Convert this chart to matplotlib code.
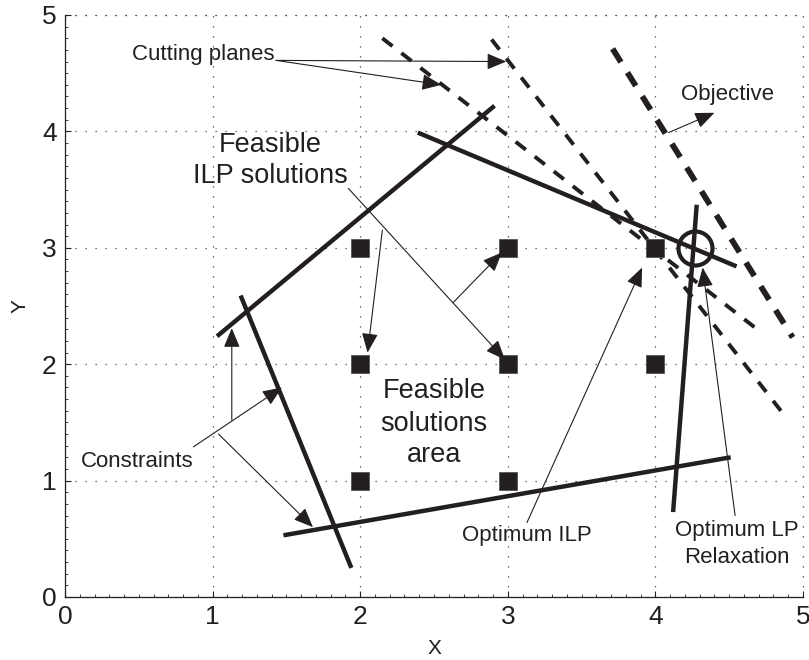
import numpy as np
import matplotlib
matplotlib.use("Agg")
import matplotlib.pyplot as plt
from matplotlib.ticker import MultipleLocator

plt.rcParams["font.family"] = ["Liberation Sans", "DejaVu Sans"]

ink = "#231f20"

# integer points (feasible ILP solutions)
pts_x = [2, 3, 4, 2, 3, 4, 2, 3]
pts_y = [3, 3, 3, 2, 2, 2, 1, 1]

# optimum of the LP relaxation
lp_opt = (4.27, 3.0)

# constraints: (x0, y0, x1, y1)
constraints = [
    (1.03, 2.24, 2.91, 4.22),
    (2.39, 3.99, 4.55, 2.84),
    (1.19, 2.59, 1.94, 0.25),
    (1.48, 0.53, 4.51, 1.20),
    (4.28, 3.37, 4.12, 0.73),
]

# cutting planes and objective
cuts = [
    (2.89, 4.79, 4.85, 1.60),
    (2.15, 4.80, 4.71, 2.28),
]
objective = (3.71, 4.71, 4.93, 2.23)

# annotation labels: (text, x, y, size)
labels = [
    ("Cutting planes", 0.94, 4.61, 16),
    ("Objective", 4.49, 4.27, 16),
    ("Feasible", 1.39, 3.82, 19.5),
    ("ILP solutions", 1.39, 3.56, 19.5),
    ("Feasible", 2.50, 1.71, 19.5),
    ("solutions", 2.50, 1.43, 19.5),
    ("area", 2.50, 1.16, 19.5),
    ("Constraints", 0.49, 1.12, 16),
    ("Optimum ILP", 3.13, 0.48, 16),
    ("Optimum LP", 4.55, 0.52, 16),
    ("Relaxation", 4.55, 0.29, 16),
]

# arrows: (start x, start y, tip x, tip y)
arrows = [
    (1.43, 4.61, 2.99, 4.60),
    (1.43, 4.61, 2.55, 4.40),
    (4.09, 3.99, 4.40, 4.16),
    (1.92, 3.51, 2.98, 2.04),
    (2.63, 2.53, 2.96, 2.96),
    (2.15, 3.15, 2.05, 2.10),
    (3.13, 0.64, 3.91, 2.83),
    (4.54, 0.70, 4.32, 2.83),
    (0.87, 1.29, 1.47, 1.80),
    (1.13, 1.52, 1.13, 2.31),
    (1.04, 1.40, 1.68, 0.60),
]

fig = plt.figure(figsize=(8.09, 6.6), dpi=100)
ax = fig.add_axes([65/809, 1-597/660, (803-65)/809, (597-15)/660])

for x0, y0, x1, y1 in constraints:
    ax.plot([x0, x1], [y0, y1], color=ink, lw=3.2, solid_capstyle="butt")

for x0, y0, x1, y1 in cuts:
    ax.plot([x0, x1], [y0, y1], color=ink, lw=2.8,
            dashes=[3.3, 2.9], dash_capstyle="butt")
ax.plot([objective[0], objective[2]], [objective[1], objective[3]],
        color=ink, lw=4.2, dashes=[2.7, 2.1], dash_capstyle="butt")

ax.plot(pts_x, pts_y, "s", color=ink, ms=13, mec="#555555", mew=0.6,
        ls="none")
ax.plot(*lp_opt, "o", mfc="none", mec=ink, ms=24.5, mew=3.0)

for x0, y0, x1, y1 in arrows:
    ax.annotate("", xy=(x1, y1), xytext=(x0, y0),
                arrowprops=dict(arrowstyle="-|>,head_length=0.6,head_width=0.25",
                                color=ink, lw=0.8, shrinkA=0, shrinkB=0,
                                mutation_scale=20))

for txt, x, y, s in labels:
    ax.text(x, y, txt, ha="center", va="baseline", fontsize=s, color=ink)

ax.set_xlim(0, 5)
ax.set_ylim(0, 5)
ax.xaxis.set_major_locator(MultipleLocator(1))
ax.yaxis.set_major_locator(MultipleLocator(1))
ax.xaxis.set_minor_locator(MultipleLocator(0.1))
ax.yaxis.set_minor_locator(MultipleLocator(0.1))
ax.tick_params(which="major", direction="in", length=4, width=0.8,
               labelsize=19, pad=6, colors=ink)
ax.tick_params(which="minor", direction="in", length=2, width=0.6, colors=ink)
for s in ["top", "right"]:
    ax.spines[s].set_visible(False)
for s in ["left", "bottom"]:
    ax.spines[s].set_linewidth(0.9)
    ax.spines[s].set_color(ink)

ax.grid(True, which="major", color="#444444", lw=0.9, ls=(0, (1, 7)))
ax.set_axisbelow(True)
ax.axvline(5, color="#444444", lw=0.9, ls=(0, (1, 7)), clip_on=False)
ax.axhline(5, color="#444444", lw=0.9, ls=(0, (1, 7)), clip_on=False)

ax.set_xlabel("X", fontsize=15, color=ink, labelpad=7)
ax.set_ylabel("Y", fontsize=15, color=ink, labelpad=9)

fig.savefig("out.png", dpi=100)
